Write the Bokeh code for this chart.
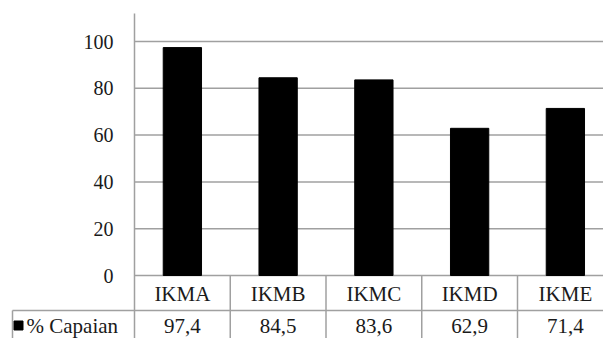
from bokeh.plotting import figure
from bokeh.models import Range1d, ColumnDataSource
from bokeh.core.properties import value
from bokeh.embed import file_html
from bokeh.resources import INLINE

categories = ["IKMA", "IKMB", "IKMC", "IKMD", "IKME"]
capaian = [97.4, 84.5, 83.6, 62.9, 71.4]
value_labels = ["97,4", "84,5", "83,6", "62,9", "71,4"]
y_ticks = [0, 20, 40, 60, 80, 100]
y_tick_labels = ["0", "20", "40", "60", "80", "100"]
series_name = "% Capaian"

W, H = 603, 338
AXIS_PX, AXIS_TOP = 134, 13
ZERO_PX = 275          # screen y of value 0
PX_PER_UNIT = 2.34
CAT_PX = 95.75         # width of one category column in px

def sy(px):
    return -(px - ZERO_PX) / PX_PER_UNIT

x_axis = -0.5

def sx(px):
    return x_axis + (px - AXIS_PX) / CAT_PX

y_top = sy(0)
y_bot = sy(H)
x_start = sx(0)
x_end = sx(W)

FONT = "Liberation Serif"
TXT = "#1a1a1a"
LINE = "#a0a0a0"
FS_TICK = "20px"
FS_TAB = "21px"

p = figure(width=W, height=H, output_backend="svg", toolbar_location=None,
           x_range=Range1d(x_start, x_end), y_range=Range1d(y_bot, y_top),
           x_axis_type=None, y_axis_type=None, min_border_left=0,
           min_border_right=0, min_border_top=0, min_border_bottom=0)
p.outline_line_color = None
p.grid.visible = False

idx = list(range(len(categories)))

# horizontal gridlines starting at the value axis
p.segment(x0=[x_axis] * len(y_ticks), y0=y_ticks, x1=[x_end] * len(y_ticks),
          y1=y_ticks, line_color=LINE, line_width=1.5)
# value axis line
p.segment(x0=[x_axis], y0=[y_bot], x1=[x_axis], y1=[sy(AXIS_TOP)],
          line_color=LINE, line_width=1.5)
# value axis tick labels
p.text(x=[sx(113)] * len(y_ticks), y=y_ticks, text=y_tick_labels,
       text_font=value(FONT), text_font_size=FS_TICK, text_color=TXT,
       text_align="right", text_baseline="middle")

src = ColumnDataSource(dict(x=idx, top=capaian, cat=categories, val=value_labels))
p.vbar(x="x", top="top", width=0.4, source=src, color="black")

# data table lines
row_line_y = sy(310)
p.segment(x0=[sx(12)], y0=[row_line_y], x1=[x_end], y1=[row_line_y],
          line_color=LINE, line_width=1.5)
p.segment(x0=[sx(12)], y0=[row_line_y], x1=[sx(12)], y1=[y_bot],
          line_color=LINE, line_width=1.5)
bounds = [i + 0.5 for i in idx]
p.segment(x0=bounds, y0=[0] * len(bounds), x1=bounds, y1=[y_bot] * len(bounds),
          line_color=LINE, line_width=1.5)

# data table texts
p.text(x="x", y=sy(293), text="cat", source=src, text_font=value(FONT),
       text_font_size=FS_TAB, text_color=TXT, text_align="center",
       text_baseline="middle")
p.text(x="x", y=sy(325), text="val", source=src, text_font=value(FONT),
       text_font_size=FS_TAB, text_color=TXT, text_align="center",
       text_baseline="middle")
# legend key of the series row
p.scatter(x=[sx(18)], y=[sy(325)], marker="square", size=9,
          fill_color="black", line_color="black")
p.text(x=[sx(26)], y=[sy(325)], text=[series_name],
       text_font=value(FONT), text_font_size=FS_TAB, text_color=TXT,
       text_align="left", text_baseline="middle")

open("out.html", "w").write(file_html(p, INLINE))
